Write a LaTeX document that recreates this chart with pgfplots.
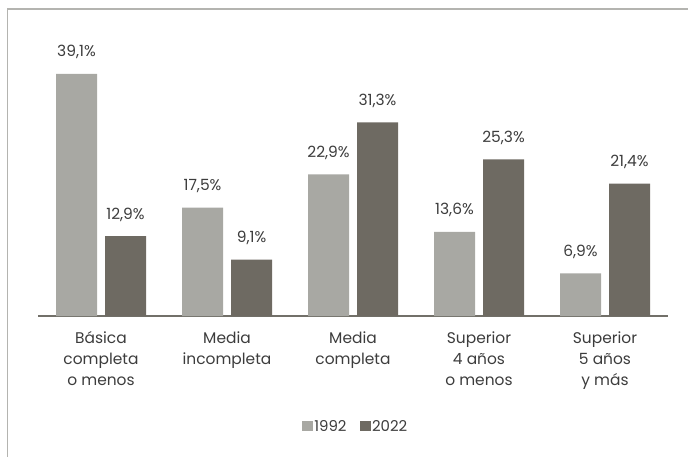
\documentclass[border=0pt]{standalone}
\usepackage{fontspec}
\setmainfont{Poppins}
\usepackage{pgfplots}
\pgfplotsset{compat=1.18}
\definecolor{cA}{HTML}{A8A8A3}
\definecolor{cB}{HTML}{6E6A62}
\definecolor{cText}{HTML}{3C3C3C}
\definecolor{cFrame}{HTML}{B4B4B0}
\definecolor{cAxis}{HTML}{727069}
\begin{document}
\begin{tikzpicture}
\path[use as bounding box] (-38bp,-141bp) rectangle (650bp,316bp);
\draw[color=cFrame, line width=1.5bp] (-30.5bp,-145bp) -- (-30.5bp,307bp) -- (655bp,307bp);
\begin{axis}[
  at={(0,0)}, anchor=south west,
  scale only axis, width=630bp, height=278.55bp,
  xmin=-0.5, xmax=4.5, ymin=0, ymax=45,
  axis x line=bottom, axis y line=none,
  x axis line style={-, draw=cAxis, line width=2bp},
  xtick={0,1,2,3,4},
  xticklabels={{\strut Básica\\completa\\o menos},{\strut Media\\incompleta},{\strut Media\\completa},{\strut Superior\\4 años\\o menos},{\strut Superior\\5 años\\y más}},
  major tick length=0pt,
  xticklabel style={align=center, anchor=north, inner sep=0pt, yshift=-13bp, font=\fontsize{15.5}{21}\selectfont, text=cText},
  ytick=\empty,
  ybar, bar width=41bp,
  /pgf/number format/assume math mode=true,
  nodes near coords={\pgfmathprintnumber[fixed, fixed zerofill, precision=1, use comma]{\pgfplotspointmeta}\%},
  every node near coord/.append style={anchor=base, yshift=17bp, inner sep=0pt, font=\fontsize{15.5}{18}\selectfont, text=cText},
  legend columns=2,
  legend style={at={(0.504,-0.398)}, anchor=center, draw=none, fill=none, font=\fontsize{15}{18}\selectfont, text=cText,
    /tikz/every even column/.append style={column sep=12bp}, nodes={inner sep=1.5bp}},
]
\addplot[fill=cA, draw=none, bar shift=-24.5bp, legend image code/.code={\fill[cA] (0bp,-4.5bp) rectangle (10.5bp,6bp);}]
  coordinates {(0,39.1) (1,17.5) (2,22.9) (3,13.6) (4,6.9)};
\addplot[fill=cB, draw=none, bar shift=24.5bp, legend image code/.code={\fill[cB] (0bp,-4.5bp) rectangle (10.5bp,6bp);}]
  coordinates {(0,12.9) (1,9.1) (2,31.3) (3,25.3) (4,21.4)};
\legend{1992,2022}
\end{axis}
\end{tikzpicture}
\end{document}
